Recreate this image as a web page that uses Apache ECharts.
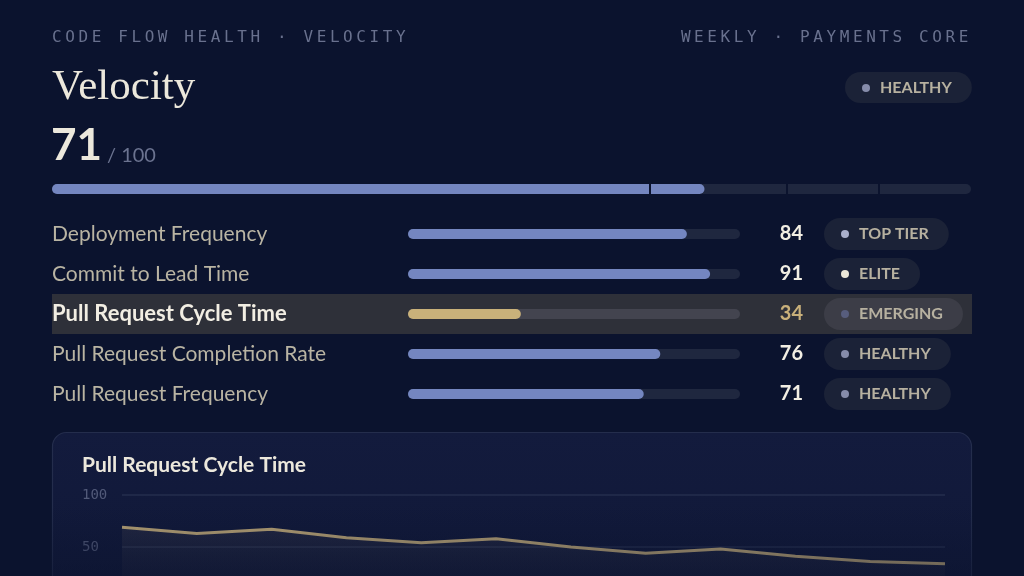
<!DOCTYPE html>
<html>
<head>
<meta charset="utf-8">
<script src="https://cdn.jsdelivr.net/npm/echarts@6/dist/echarts.min.js"></script>
<style>
  html, body { margin: 0; padding: 0; background: #0b132e; }
  #wrap { position: relative; width: 1024px; height: 576px; overflow: hidden; }
  #chart { position: absolute; left: 0; top: 0; width: 1024px; height: 576px; }
  .kicker { position: absolute; top: 29px; font-family: 'DejaVu Sans Mono', monospace; font-size: 16px;
            line-height: 16px; letter-spacing: 3.6px; color: #69718e; white-space: nowrap; z-index: 5; }
</style>
</head>
<body>
<div id="wrap">
  <div id="chart"></div>
  <div class="kicker" id="kl" style="left:52px;"></div>
  <div class="kicker" id="kr" style="right:52px;"></div>
</div>
<script>
// ---- data ----
const kickerLeft = 'CODE FLOW HEALTH · VELOCITY';
const kickerRight = 'WEEKLY · PAYMENTS CORE';
const titleText = 'Velocity';
const overallScore = 71;
const overallMax = 100;
const overallTier = 'HEALTHY';
const tierThresholds = [65, 80, 90];
const metricNames = ['Deployment Frequency', 'Commit to Lead Time', 'Pull Request Cycle Time', 'Pull Request Completion Rate', 'Pull Request Frequency'];
const metricScores = [84, 91, 34, 76, 71];
const metricTiers = ['TOP TIER', 'ELITE', 'EMERGING', 'HEALTHY', 'HEALTHY'];
const highlightIndex = 2;
const trendTitle = 'Pull Request Cycle Time';
const weeks = ['W1', 'W2', 'W3', 'W4', 'W5', 'W6', 'W7', 'W8', 'W9', 'W10', 'W11', 'W12'];
const cycleTimeScores = [69, 63, 67, 59, 54, 58, 50, 44, 48, 41, 36, 34];
const trendTicks = [0, 50, 100];

// ---- styles ----
const BG = '#0b132e';
const SANS = 'Lato, "Noto Sans", sans-serif';
const tierDot = { 'TOP TIER': '#a9afcb', 'ELITE': '#ece7d8', 'EMERGING': '#575d7d', 'HEALTHY': '#868caa' };
const tierKey = { 'TOP TIER': 'top', 'ELITE': 'elite', 'EMERGING': 'emerging', 'HEALTHY': 'healthy' };
const badgeText = '#b7b1a0';
const badgeRich = { t: { fontFamily: SANS, fontSize: 16, fontWeight: 'bold', color: badgeText, lineHeight: 16, padding: [0, 0, 0, 10] } };
const badgeRichG = { t: { fontFamily: SANS, fontSize: 16, fontWeight: 'bold', fill: badgeText, lineHeight: 16, padding: [0, 0, 0, 10] } };
Object.keys(tierDot).forEach(k => {
  badgeRich[tierKey[k]] = { width: 8, height: 8, borderRadius: 4, backgroundColor: tierDot[k] };
  badgeRichG[tierKey[k]] = { width: 8, height: 8, borderRadius: 4, backgroundColor: tierDot[k] };
});

document.getElementById('kl').textContent = kickerLeft;
document.getElementById('kr').textContent = kickerRight;

const chart = echarts.init(document.getElementById('chart'), null, { renderer: 'canvas' });

const option = {
  backgroundColor: BG,
  animation: false,
  grid: [
    { left: 52, right: 53, top: 184, height: 10, outerBoundsMode: 'none' },
    { left: 52, right: 52, top: 214, height: 200, outerBoundsMode: 'none' },
    { left: 408, right: 284, top: 214, height: 200, outerBoundsMode: 'none' },
    { left: 122, right: 79, top: 495, height: 104, outerBoundsMode: 'none' }
  ],
  xAxis: [
    { gridIndex: 0, type: 'value', min: 0, max: overallMax, show: false },
    { gridIndex: 1, type: 'value', min: 0, max: 1, show: false },
    { gridIndex: 2, type: 'value', min: 0, max: 100, show: false },
    { gridIndex: 3, type: 'category', data: weeks, boundaryGap: false, show: false }
  ],
  yAxis: [
    { gridIndex: 0, type: 'category', data: [titleText], show: false },
    { gridIndex: 1, type: 'category', data: metricNames, inverse: true, show: false },
    { gridIndex: 2, type: 'category', data: metricNames, inverse: true, z: 6,
      axisLine: { show: false }, axisTick: { show: false },
      axisLabel: {
        align: 'left', margin: 356,
        formatter: (v, i) => i === highlightIndex ? '{hl|' + v + '}' : '{n|' + v + '}',
        rich: {
          n: { fontFamily: SANS, fontSize: 21, color: '#b9b4a3' },
          hl: { fontFamily: SANS, fontSize: 22, fontWeight: 'bold', color: '#f2eee3' }
        }
      } },
    { gridIndex: 2, type: 'category', data: metricNames, inverse: true, position: 'right', z: 6,
      axisLine: { show: false }, axisTick: { show: false },
      axisLabel: {
        align: 'right', margin: 63,
        formatter: (v, i) => i === highlightIndex ? '{hl|' + metricScores[i] + '}' : '{n|' + metricScores[i] + '}',
        rich: {
          n: { fontFamily: SANS, fontSize: 20, fontWeight: 'bold', color: '#f2eee3' },
          hl: { fontFamily: SANS, fontSize: 20, fontWeight: 'bold', color: '#c9b07a' }
        }
      } },
    { gridIndex: 3, type: 'value', min: trendTicks[0], max: trendTicks[trendTicks.length - 1], interval: 50,
      axisLine: { show: false }, axisTick: { show: false },
      splitLine: { lineStyle: { color: '#252e4e', width: 1.5 } },
      axisLabel: { align: 'left', margin: 40, fontFamily: '"DejaVu Sans Mono", monospace', fontSize: 14, color: '#525a79' } }
  ],
  series: [
    // overall bar track
    { type: 'bar', xAxisIndex: 0, yAxisIndex: 0, data: [overallMax], barWidth: 10, silent: true,
      itemStyle: { color: '#1f273f', borderRadius: 5 } },
    // overall fill with tier separators
    { type: 'bar', xAxisIndex: 0, yAxisIndex: 0, data: [overallScore], barWidth: 10, barGap: '-100%', silent: true,
      itemStyle: { color: '#7486c0', borderRadius: 5 },
      markLine: { silent: true, symbol: 'none', label: { show: false },
        lineStyle: { color: BG, width: 2, type: 'solid' },
        data: tierThresholds.map(t => ({ xAxis: t })) } },
    // highlighted row band
    { type: 'bar', xAxisIndex: 1, yAxisIndex: 1, barCategoryGap: '0%', silent: true, z: 1,
      data: metricNames.map((n, i) => i === highlightIndex ? 1 : '-'),
      itemStyle: { color: '#2e3039' } },
    // metric tracks + tier badges
    { type: 'bar', xAxisIndex: 2, yAxisIndex: 2, barWidth: 10, silent: true, z: 3,
      data: metricNames.map((n, i) => ({
        value: 100,
        itemStyle: { color: i === highlightIndex ? '#43444f' : '#1f273f' },
        label: { backgroundColor: i === highlightIndex ? '#3c3d47' : '#1b2237' }
      })),
      itemStyle: { borderRadius: 5 },
      label: {
        show: true, position: 'right', distance: 84,
        borderRadius: 16, padding: [8, 20, 8, 17],
        formatter: p => '{' + tierKey[metricTiers[p.dataIndex]] + '|}{t|' + metricTiers[p.dataIndex] + '}',
        rich: badgeRich
      } },
    // metric fills
    { type: 'bar', xAxisIndex: 2, yAxisIndex: 2, barWidth: 10, barGap: '-100%', silent: true, z: 4,
      data: metricScores.map((v, i) => ({ value: v, itemStyle: { color: i === highlightIndex ? '#c9b17a' : '#7486c0' } })),
      itemStyle: { borderRadius: 5 } },
    // trend line
    { type: 'line', xAxisIndex: 3, yAxisIndex: 4, data: cycleTimeScores, symbol: 'none', silent: true, z: 5,
      lineStyle: { color: '#bea878', width: 3 },
      areaStyle: { color: new echarts.graphic.LinearGradient(0, 0, 0, 1, [
        { offset: 0, color: 'rgba(200,180,140,0.13)' }, { offset: 1, color: 'rgba(200,180,140,0.02)' }]) } }
  ],
  graphic: [
    { type: 'text', x: 52, y: 88, z: 10, style: { text: titleText, fontFamily: '"Liberation Serif", serif', fontSize: 43,
      fill: '#ece8dc', verticalAlign: 'middle' } },
    { type: 'text', x: 51, y: 146, z: 10, style: { text: String(overallScore), fontFamily: SANS, fontSize: 44, fontWeight: 'bold',
      fill: '#ece8dc', verticalAlign: 'middle' } },
    { type: 'text', x: 107, y: 156, z: 10, style: { text: '/ ' + overallMax, fontFamily: SANS, fontSize: 20,
      fill: '#6b7390', verticalAlign: 'middle' } },
    { type: 'text', x: 845, y: 72, z: 10, style: {
      text: '{' + tierKey[overallTier] + '|}{t|' + overallTier + '}',
      rich: badgeRichG, backgroundColor: '#1b2237', borderRadius: 16, padding: [8, 20, 7, 17] } },
    { type: 'rect', z: -5, shape: { x: 52.5, y: 432.5, width: 919, height: 220, r: 14 },
      style: { fill: new echarts.graphic.LinearGradient(0, 0, 0, 1, [
        { offset: 0, color: '#131b3d' }, { offset: 1, color: '#0f1736' }]), stroke: '#242d4c', lineWidth: 1.2 } },
    { type: 'text', x: 82, y: 465, z: 10, style: { text: trendTitle, fontFamily: SANS, fontSize: 21, fontWeight: 'bold',
      fill: '#ece8dc', verticalAlign: 'middle' } },
    { type: 'rect', z: 100, silent: true, shape: { x: 0, y: 505, width: 1024, height: 71 },
      style: { fill: new echarts.graphic.LinearGradient(0, 0, 0, 1, [
        { offset: 0, color: 'rgba(11,19,46,0)' }, { offset: 1, color: 'rgba(11,19,46,0.5)' }]) } }
  ]
};
chart.setOption(option);
</script>
</body>
</html>
